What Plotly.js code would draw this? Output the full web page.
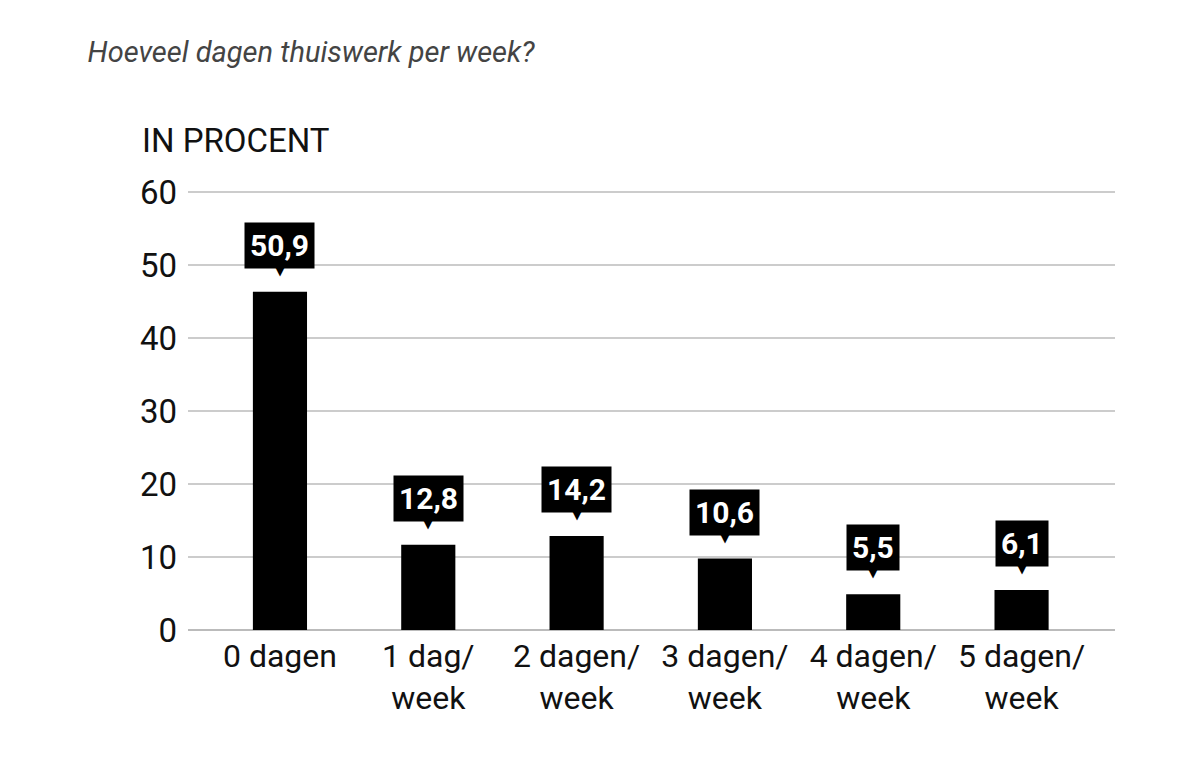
<!DOCTYPE html>
<html>
<head>
<meta charset="utf-8">
<script src="https://cdn.plot.ly/plotly-3.0.1.min.js"></script>
<style>
  body { margin: 0; background: #fff; }
  #chart { width: 1200px; height: 765px; }
</style>
</head>
<body>
<div id="chart"></div>
<script>
// categories and values
var categories = ['0 dagen', '1 dag/<br>week', '2 dagen/<br>week', '3 dagen/<br>week', '4 dagen/<br>week', '5 dagen/<br>week'];
// bar heights as they are drawn in the picture (the graphic draws them a bit short of the labels)
var barHeights = [46.4, 11.7, 12.9, 9.8, 4.9, 5.5];
// values printed in the callouts
var labelValues = ['50,9', '12,8', '14,2', '10,6', '5,5', '6,1'];
var yTicks = [0, 10, 20, 30, 40, 50, 60];

var narrow = 'Roboto, "Noto Sans", sans-serif';
var xIdx = categories.map(function (c, i) { return i; });

var trace = {
    type: 'bar',
    x: xIdx,
    y: barHeights,
    width: 0.365,
    marker: { color: '#000000' },
    hoverinfo: 'skip'
};

var annotations = [];
for (var i = 0; i < labelValues.length; i++) {
    // black callout box
    annotations.push({
        x: i, y: barHeights[i], xref: 'x', yref: 'y',
        text: labelValues[i],
        showarrow: false,
        yanchor: 'bottom',
        yshift: 23,
        bgcolor: '#000000',
        borderpad: 5,
        font: { family: narrow, size: 30, color: '#ffffff', weight: 'bold' }
    });
    // little pointer under the box
    annotations.push({
        x: i, y: barHeights[i], xref: 'x', yref: 'y',
        text: '▼',
        showarrow: false,
        yanchor: 'bottom',
        yshift: 12,
        font: { family: 'DejaVu Sans', size: 13, color: '#000000' }
    });
}
annotations.push({
    xref: 'paper', yref: 'paper',
    x: -0.052, y: 1.116,
    xanchor: 'left', yanchor: 'middle',
    text: 'IN PROCENT',
    showarrow: false,
    font: { family: narrow, size: 33, color: '#111111' }
});

var layout = {
    width: 1200,
    height: 765,
    margin: { l: 188, r: 85, t: 191, b: 135 },
    paper_bgcolor: '#ffffff',
    plot_bgcolor: '#ffffff',
    showlegend: false,
    title: {
        text: '<i>Hoeveel dagen thuiswerk per week?</i>',
        x: 0.073, xref: 'container', xanchor: 'left',
        y: 0.932, yref: 'container', yanchor: 'middle',
        font: { family: 'Roboto, sans-serif', size: 29, color: '#444444' }
    },
    xaxis: {
        type: 'linear',
        range: [-0.62, 5.63],
        tickmode: 'array',
        tickvals: xIdx,
        ticktext: categories,
        showgrid: false,
        zeroline: false,
        showline: false,
        ticks: '',
        ticklabelstandoff: 4,
        tickfont: { family: narrow, size: 32, color: '#111111' }
    },
    yaxis: {
        range: [0, 60.2],
        tickmode: 'array',
        tickvals: yTicks,
        ticktext: yTicks.map(String),
        showgrid: true,
        gridcolor: '#cccccc',
        gridwidth: 2,
        zeroline: true,
        zerolinecolor: '#bbbbbb',
        zerolinewidth: 2,
        showline: false,
        ticks: '',
        ticklabelstandoff: 10,
        tickfont: { family: narrow, size: 33, color: '#111111' }
    },
    annotations: annotations
};

Plotly.newPlot('chart', [trace], layout, { displayModeBar: false, staticPlot: true });
</script>
</body>
</html>
